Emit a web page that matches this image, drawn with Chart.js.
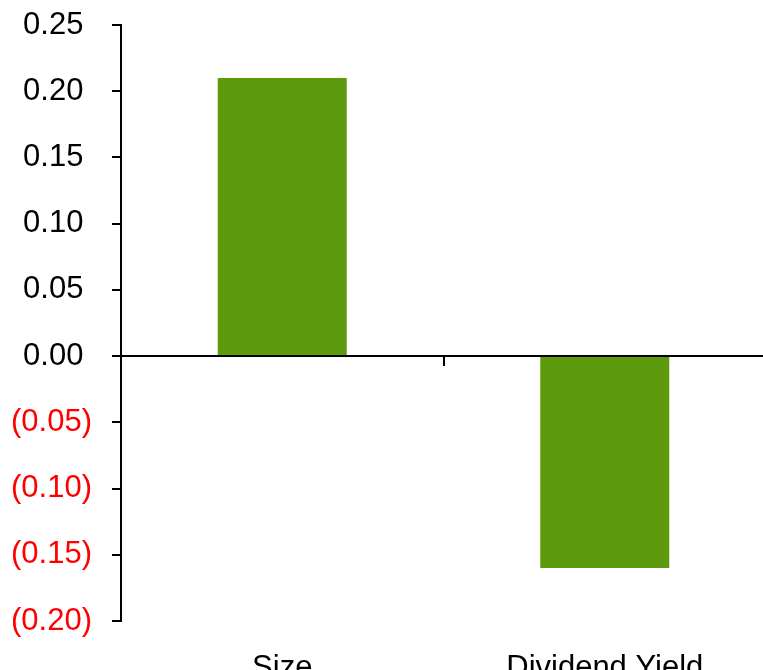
<!DOCTYPE html>
<html>
<head>
<meta charset="utf-8">
<script src="https://cdn.jsdelivr.net/npm/chart.js@4/dist/chart.umd.min.js"></script>
<style>
html,body{margin:0;padding:0;background:#fff;overflow:hidden;width:763px;height:670px;}
#c{display:block;}
</style>
</head>
<body>
<canvas id="c" width="766" height="670"></canvas>
<script>
const categories = ['Size', 'Dividend Yield'];
const values = [0.21, -0.16];
const yTickLabels = ['(0.20)', '(0.15)', '(0.10)', '(0.05)', '0.00', '0.05', '0.10', '0.15', '0.20', '0.25'];
const yMin = -0.20, yMax = 0.25, yStep = 0.05;

const catTick = {
  id: 'catTick',
  afterDatasetsDraw(chart) {
    const x = chart.scales.x, y = chart.scales.y;
    const ctx = chart.ctx;
    const y0 = y.getPixelForValue(0);
    ctx.save();
    ctx.strokeStyle = '#000';
    ctx.lineWidth = 2;
    for (let i = 0; i < categories.length - 1; i++) {
      const xm = Math.round((x.getPixelForValue(i) + x.getPixelForValue(i + 1)) / 2);
      ctx.beginPath();
      ctx.moveTo(xm, y0);
      ctx.lineTo(xm, y0 + 10);
      ctx.stroke();
    }
    ctx.restore();
  }
};

new Chart(document.getElementById('c'), {
  type: 'bar',
  data: {
    labels: categories,
    datasets: [{
      data: values,
      backgroundColor: '#5E9A0E',
      borderWidth: 0,
      barPercentage: 0.4,
      categoryPercentage: 1.0
    }]
  },
  options: {
    responsive: false,
    animation: false,
    devicePixelRatio: 1,
    layout: { padding: { top: 25, left: 0, right: 0, bottom: 0 } },
    plugins: { legend: { display: false }, tooltip: { enabled: false } },
    scales: {
      x: {
        offset: true,
        grid: { display: false, drawTicks: false },
        border: { display: false },
        ticks: {
          padding: 29,
          color: '#000',
          maxRotation: 0,
          font: { family: '"Liberation Sans", Arial, sans-serif', size: 31 }
        },
        afterFit(scale) { scale.height = 49; scale.paddingLeft = 0; scale.paddingRight = 0; }
      },
      y: {
        min: yMin,
        max: yMax,
        ticks: {
          stepSize: yStep,
          padding: 20,
          font: { family: '"Liberation Sans", Arial, sans-serif', size: 31 },
          color: ctx => (ctx.tick && ctx.tick.value < -1e-9) ? '#FF0000' : '#000',
          callback: (v, i) => {
            const s = yTickLabels[i];
            return s.startsWith('(') ? s : s + ' ';
          }
        },
        grid: {
          color: ctx => (ctx.tick && Math.abs(ctx.tick.value) < 1e-9) ? '#000' : 'rgba(0,0,0,0)',
          tickColor: '#000',
          tickLength: 9,
          lineWidth: 2
        },
        border: { color: '#000', width: 2 },
        afterFit(scale) { scale.width = 121; scale.paddingTop = 0; scale.paddingBottom = 0; }
      }
    }
  },
  plugins: [catTick]
});
</script>
</body>
</html>
